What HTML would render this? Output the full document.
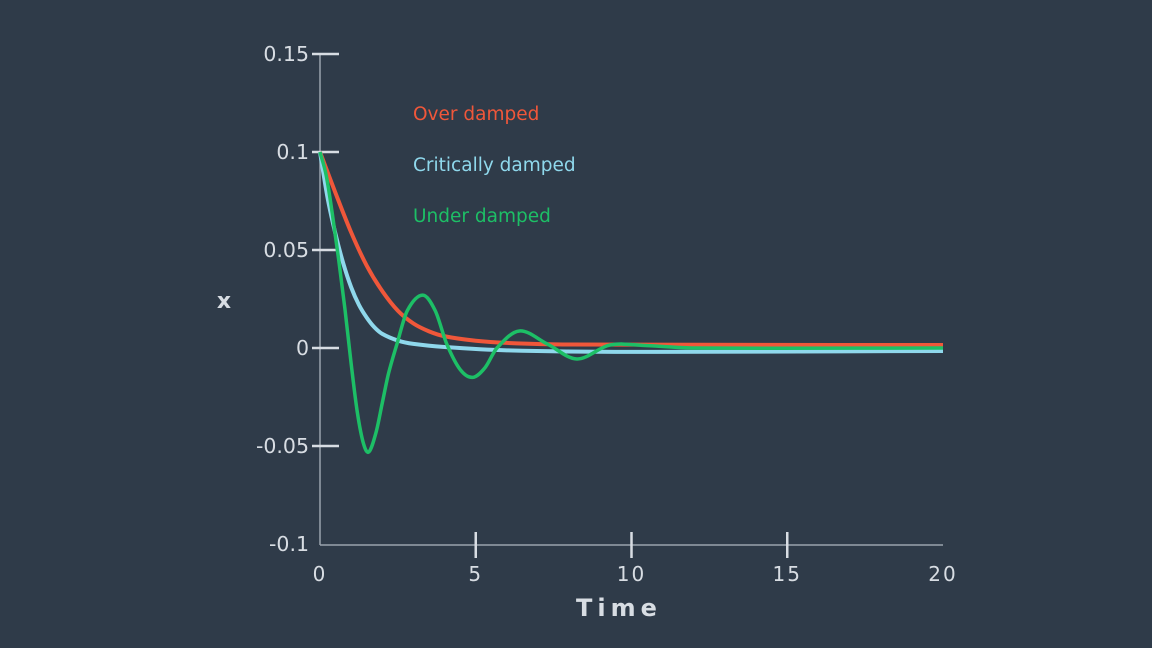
<!DOCTYPE html>
<html><head><meta charset="utf-8"><style>
html,body{margin:0;padding:0;background:#2f3b49;}
svg{display:block;font-family:"DejaVu Sans","Liberation Sans",sans-serif;}
</style></head><body>
<svg width="1152" height="648">
<rect width="1152" height="648" fill="#2f3b49"/>
<g id="axes"></g><g id="series"></g>
<text x="413" y="120" fill="#f0573a" font-size="18.5">Over damped</text>
<text x="413" y="171" fill="#8fd8ec" font-size="18.5">Critically damped</text>
<text x="413" y="222" fill="#1dbf66" font-size="18.5">Under damped</text>
<text x="224" y="308" fill="#d8dde3" font-size="22" font-weight="bold" text-anchor="middle">x</text>
<text x="619" y="616" fill="#d8dde3" font-size="24" font-weight="bold" letter-spacing="5" text-anchor="middle">Time</text>
</svg>
<script>
const xTicks=[0,5,10,15,20];
const yTicks=[0.15,0.1,0.05,0,-0.05,-0.1];
const yTickLabels=["0.15","0.1","0.05","0","-0.05","-0.1"];
const overT=[0,0.5,1,1.5,2,2.5,3,3.5,4,5,6,8,20];
const overV=[0.1,0.079,0.059,0.042,0.029,0.019,0.0125,0.0085,0.006,0.0037,0.0026,0.0018,0.0015];
const critT=[0,0.25,0.5,0.75,1,1.25,1.5,1.75,2,2.5,3,4,6,10,20];
const critV=[0.1,0.076,0.058,0.043,0.031,0.022,0.0155,0.0105,0.0072,0.0038,0.0021,0.0005,-0.0012,-0.002,-0.0015];
const underT=[0,0.2,0.4,0.6,0.8,1.0,1.2,1.4,1.57,1.8,2.0,2.2,2.47,2.8,3.3,3.7,4.07,4.5,4.9,5.3,5.68,6.4,7.3,8.25,9.3,10.5,12,20];
const underV=[0.1,0.088,0.068,0.045,0.02,-0.008,-0.033,-0.049,-0.053,-0.043,-0.028,-0.013,0.002,0.019,0.027,0.019,0.002,-0.011,-0.015,-0.01,0,0.0087,0.002,-0.0056,0.0015,0.0012,0,0];
const NS='http://www.w3.org/2000/svg';
const xS=t=>320+t*(943-320)/20;
const yS=v=>348-v*1960;
function mk(tag,attrs,parent){const e=document.createElementNS(NS,tag);for(const k in attrs)e.setAttribute(k,attrs[k]);parent.appendChild(e);return e;}
const ax=document.getElementById('axes');
const yl=mk('line',{x1:320,y1:53,x2:320,y2:545,stroke:'#9aa3ad','stroke-width':1.5},ax);


const xl=mk('line',{x1:320,y1:545,x2:943,y2:545,stroke:'#9aa3ad','stroke-width':1.5},ax);


yTicks.forEach((v,i)=>{
  if(i<yTicks.length-1){const tk=mk('line',{x1:312,x2:339,y1:yS(v),y2:yS(v),stroke:'#d8dde3','stroke-width':2.5},ax);
  
  }
  const tx=mk('text',{x:309,y:yS(v)+7,fill:'#d8dde3','font-size':20.5,'text-anchor':'end'},ax);
  tx.textContent=yTickLabels[i];
  
  
});
xTicks.forEach(t=>{
  if(t>0&&t<20){const tk=mk('line',{x1:xS(t),x2:xS(t),y1:532,y2:558,stroke:'#d8dde3','stroke-width':2.5},ax);
  
  }
  const tx=mk('text',{x:xS(t),y:581,fill:'#d8dde3','font-size':20,'text-anchor':'middle','letter-spacing':2},ax);
  tx.textContent=String(t);
  
  
});
function pathD(T,V){
  const p=T.map((t,i)=>[xS(t),yS(V[i])]);
  let d='M'+p[0][0]+','+p[0][1];
  for(let i=0;i<p.length-1;i++){
    const p0=p[i-1]||p[i],p1=p[i],p2=p[i+1],p3=p[i+2]||p2;
    const h=p2[0]-p1[0];
    const m1=(p2[1]-p0[1])/((p2[0]-p0[0])||1), m2=(p3[1]-p1[1])/((p3[0]-p1[0])||1);
    const c1=[p1[0]+h/3,p1[1]+m1*h/3];
    const c2=[p2[0]-h/3,p2[1]-m2*h/3];
    d+=' C'+c1+' '+c2+' '+p2;
  }
  return d;
}
const sg=document.getElementById('series');
const s1=mk('path',{d:pathD(overT,overV),fill:'none',stroke:'#f0573a','stroke-width':4},sg);


const s2=mk('path',{d:pathD(critT,critV),fill:'none',stroke:'#8fd8ec','stroke-width':4},sg);


const s3=mk('path',{d:pathD(underT,underV),fill:'none',stroke:'#1dbf66','stroke-width':3.5},sg);


</script>
</body></html>
